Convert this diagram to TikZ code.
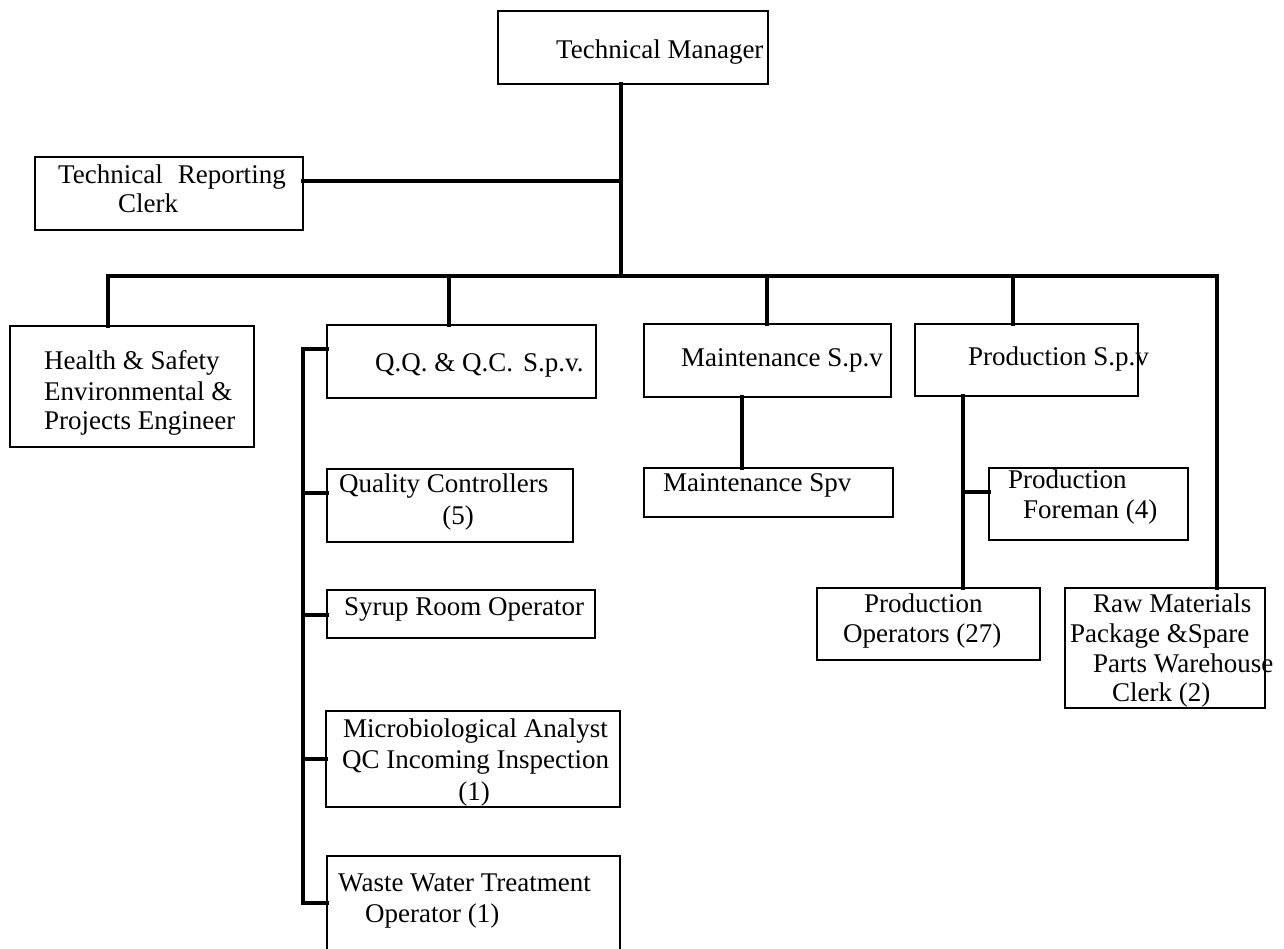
\documentclass[tikz,border=0pt]{standalone}
\usepackage{fontspec}
\setmainfont{Liberation Serif}
\begin{document}
\begin{tikzpicture}[x=1pt,y=-1pt,
  box/.style={draw=black,line width=1.8pt,rectangle,inner sep=0pt,outer sep=0pt,anchor=north west},
  conn/.style={draw=black,line width=4.5pt,line join=miter,line cap=rect},
  lbl/.style={anchor=base west,inner sep=0pt,font=\fontsize{27}{30}\selectfont},
  lblc/.style={anchor=base,inner sep=0pt,font=\fontsize{27}{30}\selectfont}]
\useasboundingbox (0,0) rectangle (1284,949);
\clip (0,0) rectangle (1284,949);
\fill[white] (0,0) rectangle (1284,949);

% ---- boxes ----
\node[box,minimum width=270pt,minimum height=73pt] (tm) at (498,11) {};
\node[box,minimum width=268pt,minimum height=73pt] (trc) at (35,157) {};
\node[box,minimum width=244pt,minimum height=121pt] (hse) at (10,326) {};
\node[box,minimum width=269pt,minimum height=73pt] (qq) at (327,325) {};
\node[box,minimum width=246pt,minimum height=73pt] (qcs) at (327,469) {};
\node[box,minimum width=268pt,minimum height=48pt] (syr) at (327,590) {};
\node[box,minimum width=294pt,minimum height=96pt] (mic) at (326,711) {};
\node[box,minimum width=293pt,minimum height=140pt] (wwt) at (327,856) {};
\node[box,minimum width=247pt,minimum height=73pt] (msp) at (644,324) {};
\node[box,minimum width=249pt,minimum height=49pt] (msub) at (644,468) {};
\node[box,minimum width=223pt,minimum height=72pt] (psp) at (915,324) {};
\node[box,minimum width=199pt,minimum height=72pt] (pf) at (989,468) {};
\node[box,minimum width=223pt,minimum height=72pt] (pop) at (817,588) {};
\node[box,minimum width=200pt,minimum height=120pt] (raw) at (1065,588) {};

% ---- texts ----
\node[lbl] (tmT) at (556,59) {Technical Manager};
\node[lbl] (trcT1) at (58,184) {Technical\hspace{15pt}Reporting};
\node[lbl] (trcT2) at (118,213) {Clerk};
\node[lbl] (hseT1) at (44,369) {Health \& Safety};
\node[lbl] (hseT2) at (44,400) {Environmental \&};
\node[lbl] (hseT3) at (44,429) {Projects Engineer};
\node[lbl] (qqT) at (375,371) {Q.Q. \& Q.C.\hspace{10pt}S.p.v.};
\node[lbl] (qcsT1) at (339,492) {Quality Controllers};
\node[lblc] (qcsT2) at (458,524) {(5)};
\node[lbl] (syrT) at (344,615) {Syrup Room Operator};
\node[lbl] (micT1) at (343,737) {Microbiological Analyst};
\node[lbl] (micT2) at (342,768) {QC Incoming Inspection};
\node[lblc] (micT3) at (474,800) {(1)};
\node[lbl] (wwtT1) at (338,891) {Waste Water Treatment};
\node[lbl] (wwtT2) at (365,922) {Operator (1)};
\node[lbl] (mspT) at (681,366) {Maintenance S.p.v};
\node[lbl] (msubT) at (663,491) {Maintenance Spv};
\node[lbl] (pspT) at (968,365) {Production S.p.v};
\node[lbl] (pfT1) at (1008,488) {Production};
\node[lbl] (pfT2) at (1023,518) {Foreman (4)};
\node[lbl] (popT1) at (864,612) {Production};
\node[lbl] (popT2) at (843,642) {Operators (27)};
\node[lbl] (rawT1) at (1093,612) {Raw Materials};
\node[lbl] (rawT2) at (1070,642) {Package \&Spare};
\node[lbl] (rawT3) at (1093,672) {Parts Warehouse};
\node[lbl] (rawT4) at (1112,701) {Clerk (2)};

% ---- junction points ----
\coordinate (trunk) at (621,276);
\coordinate (trcJ) at (621,181);
\coordinate (busL) at (108,276);
\coordinate (busR) at (1217,276);
\coordinate (dq) at (449,276);
\coordinate (dm) at (767,276);
\coordinate (dp) at (1013,276);
\coordinate (qs1) at (303,349);
\coordinate (qs2) at (303,493);
\coordinate (qs3) at (303,615);
\coordinate (qs4) at (303,759);
\coordinate (qs5) at (303,903);
\coordinate (ms) at (742,0);
\coordinate (ps) at (963,492);

% ---- connectors ----
\draw[conn] (tm.south -| trunk) -- (trunk);
\draw[conn] (trcJ -| trc.east) -- (trcJ);
\draw[conn] (hse.north -| busL) -- (busL) -- (busR) -- (raw.north -| busR);
\draw[conn] (dq) -- (qq.north -| dq);
\draw[conn] (dm) -- (msp.north -| dm);
\draw[conn] (dp) -- (psp.north -| dp);
\draw[conn] (qq.west |- qs1) -- (qs1) -- (qs5) -- (wwt.west |- qs5);
\draw[conn] (qs2) -- (qcs.west |- qs2);
\draw[conn] (qs3) -- (syr.west |- qs3);
\draw[conn] (qs4) -- (mic.west |- qs4);
\draw[conn] (msp.south -| ms) -- (msub.north -| ms);
\draw[conn] (psp.south -| ps) -- (pop.north -| ps);
\draw[conn] (ps) -- (pf.west |- ps);
\end{tikzpicture}
\end{document}
